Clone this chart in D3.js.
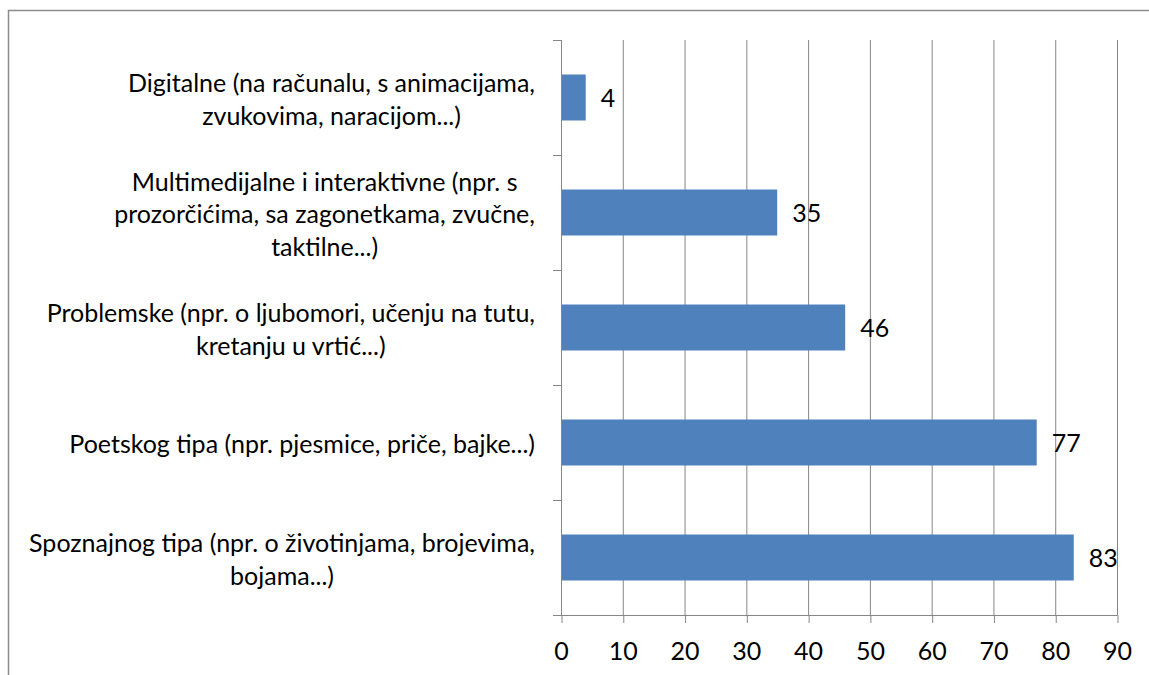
<!DOCTYPE html>
<html>
<head>
<meta charset="utf-8">
<script src="https://cdn.jsdelivr.net/npm/d3@7"></script>
<style>
  body { margin: 0; background: #fff; }
  text { font-family: Lato, "Open Sans", sans-serif; fill: #000; }
</style>
</head>
<body>
<div id="chart"></div>
<script>
// Categories (top to bottom), each split in lines as in the original
var categories = [
    ["Digitalne (na računalu, s animacijama,", "zvukovima, naracijom...)"],
    ["Multimedijalne i interaktivne (npr. s", "prozorčićima, sa zagonetkama, zvučne,", "taktilne...)"],
    ["Problemske (npr. o ljubomori, učenju na tutu,", "kretanju u vrtić...)"],
    ["Poetskog tipa (npr. pjesmice, priče, bajke...)"],
    ["Spoznajnog tipa (npr. o životinjama, brojevima,", "bojama...)"]
];
var values = [4, 35, 46, 77, 83];
var xTicks = [0, 10, 20, 30, 40, 50, 60, 70, 80, 90];

var width = 1149, height = 675;
var margin = {top: 40, right: 32, bottom: 60, left: 561};
var gridColor = "#868686";

var svg = d3.select("#chart")
    .append("svg")
    .attr("width", width)
    .attr("height", height);

// pick a font size so the widest label line is about as wide as in the original (~506px)
var probe = svg.append("text").style("font-size", "20px").text(categories[4][0]);
var fontSize = Math.round(20 * 506 / probe.node().getComputedTextLength() * 10) / 10;
probe.remove();

// outer chart border (runs off the right and bottom edges)
svg.append("path")
    .attr("d", "M8.5," + height + "V10.5H" + width)
    .attr("fill", "none")
    .attr("stroke", "#8c8c8c")
    .attr("stroke-width", 1.5);

var x = d3.scaleLinear()
    .domain([0, 90])
    .range([margin.left, width - margin.right]);

var y = d3.scaleBand()
    .domain(d3.range(categories.length))
    .range([margin.top, height - margin.bottom])
    .paddingInner(0.6)
    .paddingOuter(0.3);

var plotTop = margin.top, plotBottom = height - margin.bottom;

// vertical gridlines
svg.append("g")
    .selectAll("line")
    .data(xTicks.slice(1))
    .join("line")
    .attr("x1", d => x(d) + 0.5)
    .attr("x2", d => x(d) + 0.5)
    .attr("y1", plotTop)
    .attr("y2", plotBottom)
    .attr("stroke", gridColor);

// bars
svg.append("g")
    .selectAll("rect")
    .data(values)
    .join("rect")
    .attr("x", x(0))
    .attr("y", (d, i) => y(i))
    .attr("width", d => x(d) - x(0))
    .attr("height", y.bandwidth())
    .attr("fill", "#4f81bd");

// value labels
svg.append("g")
    .selectAll("text")
    .data(values)
    .join("text")
    .attr("x", d => x(d) + 15)
    .attr("y", (d, i) => y(i) + y.bandwidth() / 2 + 1)
    .attr("dy", "0.35em")
    .style("font-size", fontSize + "px")
    .text(d => d);

// bottom axis
var xAxis = svg.append("g")
    .attr("transform", `translate(0, ${plotBottom})`)
    .call(d3.axisBottom(x).tickValues(xTicks).tickSize(8).tickPadding(19));
xAxis.select(".domain")
    .attr("d", "M" + (x(0) - 8) + ",0.5H" + (x(90) + 0.5))
    .attr("stroke", gridColor);
xAxis.selectAll(".tick line").attr("stroke", gridColor).attr("x1", 0.5).attr("x2", 0.5);
xAxis.selectAll(".tick text").style("font-size", fontSize + "px").attr("fill", "#000");

// left axis line and category separators
var step = (plotBottom - plotTop) / categories.length;
var leftAxis = svg.append("g");
leftAxis.append("line")
    .attr("x1", x(0) + 0.5).attr("x2", x(0) + 0.5)
    .attr("y1", plotTop).attr("y2", plotBottom)
    .attr("stroke", gridColor);
leftAxis.selectAll(".sep")
    .data(d3.range(categories.length))
    .join("line")
    .attr("x1", x(0) - 8).attr("x2", x(0))
    .attr("y1", d => plotTop + d * step + 0.5)
    .attr("y2", d => plotTop + d * step + 0.5)
    .attr("stroke", gridColor);

// category labels: multi-line, centered within block, block right-aligned
var labelRight = x(0) - 26;
var lineHeight = 32.5;
categories.forEach(function(lines, i) {
    var g = svg.append("g");
    var texts = g.selectAll("text")
        .data(lines)
        .join("text")
        .style("font-size", fontSize + "px")
        .attr("text-anchor", "middle")
        .text(d => d);
    var maxW = d3.max(texts.nodes(), n => n.getComputedTextLength());
    var cy = y(i) + y.bandwidth() / 2 + 2;
    texts.attr("x", labelRight - maxW / 2)
        .attr("y", (d, j) => cy + (j - (lines.length - 1) / 2) * lineHeight)
        .attr("dy", "0.35em");
});
</script>
</body>
</html>
